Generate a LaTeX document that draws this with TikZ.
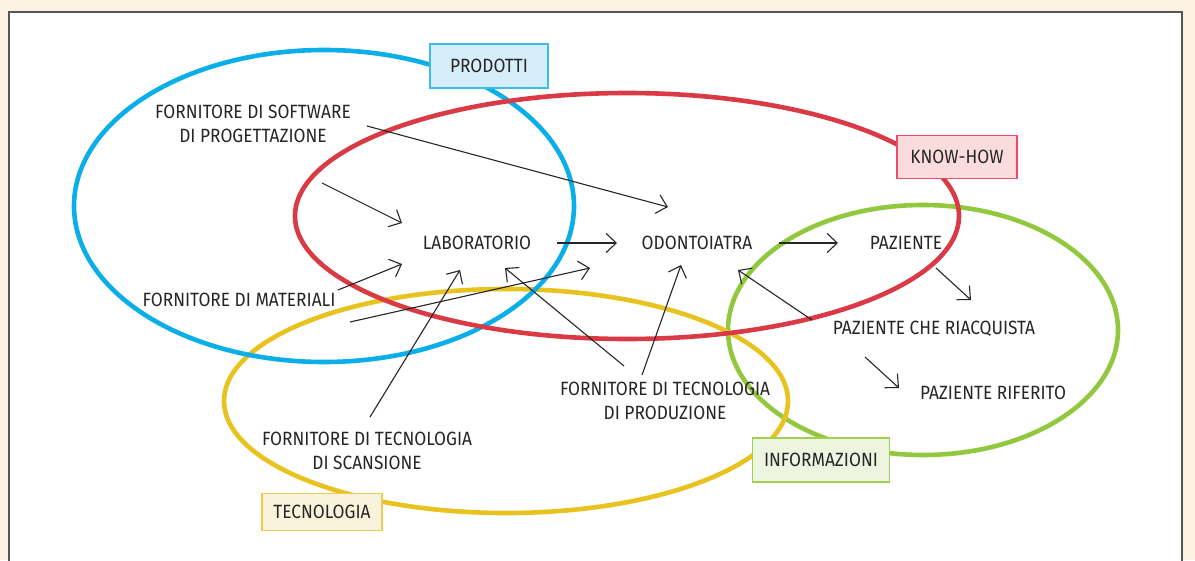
\documentclass[tikz,border=0pt]{standalone}
\usepackage{fontspec}
\setmainfont{Fira Sans}[FakeStretch=0.9]
\usetikzlibrary{arrows.meta}
\definecolor{cream}{HTML}{FDF1E1}
\definecolor{frame}{HTML}{555555}
\definecolor{txt}{HTML}{262626}
\definecolor{cblue}{HTML}{0AAEE8}
\definecolor{cred}{HTML}{DA3A45}
\definecolor{cyel}{HTML}{E8C21E}
\definecolor{cgreen}{HTML}{92C83E}
\definecolor{fblue}{HTML}{D5EEFA}
\definecolor{dblue}{HTML}{3BBDEB}
\definecolor{fred}{HTML}{FADCDC}
\definecolor{dred}{HTML}{EC4C6E}
\definecolor{fgreen}{HTML}{EDF4DF}
\definecolor{dgreen}{HTML}{A2D04E}
\definecolor{fyel}{HTML}{FAF3DC}
\definecolor{dyel}{HTML}{EDCB55}
\tikzset{
  lbl/.style={text=txt, font=\fontsize{19.2}{24.5}\selectfont, align=center, inner sep=0pt},
  tagbox/.style={lbl, line width=1.2pt, inner sep=0pt},
  ring/.style={line width=4.6pt},
  arr/.style={draw=txt, line width=1.1pt, -{Straight Barb[length=10pt,width=19pt,line width=1.1pt]}},
}
\begin{document}
\begin{tikzpicture}[x=1pt,y=-1pt]
\useasboundingbox (0,0) rectangle (1195,560);
\fill[cream] (0,0) rectangle (1195,560);
\filldraw[fill=white, draw=frame, line width=1.5pt] (9,12) rectangle (1182,575);

% rings
\draw[ring, cgreen] (923,330) ellipse [x radius=195pt, y radius=125pt];
\draw[ring, cyel] (506,401) ellipse [x radius=282pt, y radius=112pt];
\draw[ring, cblue] (324,206) ellipse [x radius=250pt, y radius=156pt];
\draw[ring, cred] (627,216) ellipse [x radius=332pt, y radius=123pt];

% tag boxes
\node[tagbox, fill=fblue, draw=dblue, minimum width=118pt, minimum height=44pt] (prod) at (489,66) {PRODOTTI};
\node[tagbox, fill=fred, draw=dred, minimum width=120pt, minimum height=43pt] (know) at (957,157) {KNOW-HOW};
\node[tagbox, fill=fgreen, draw=dgreen, minimum width=137pt, minimum height=44pt] (info) at (821,460) {INFORMAZIONI};
\node[tagbox, fill=fyel, draw=dyel, minimum width=120pt, minimum height=37pt] (tecn) at (322,512) {TECNOLOGIA};

% text nodes
\node[lbl] (soft) at (253,124) {FORNITORE DI SOFTWARE\\DI PROGETTAZIONE};
\node[lbl] (lab) at (477,243) {LABORATORIO};
\node[lbl] (odo) at (697,243) {ODONTOIATRA};
\node[lbl] (paz) at (906,243) {PAZIENTE};
\node[lbl] (mat) at (239,300) {FORNITORE DI MATERIALI};
\node[lbl] (ria) at (934,329) {PAZIENTE CHE RIACQUISTA};
\node[lbl] (rif) at (993,393) {PAZIENTE RIFERITO};
\node[lbl] (prd) at (665,401) {FORNITORE DI TECNOLOGIA\\DI PRODUZIONE};
\node[lbl] (scn) at (367,451) {FORNITORE DI TECNOLOGIA\\DI SCANSIONE};

% arrow end points
\coordinate (s1a) at (322,183); \coordinate (s1b) at (402,223);
\coordinate (s2a) at (367,126); \coordinate (s2b) at (668,207);
\coordinate (l1a) at (557,243); \coordinate (l1b) at (617,243);
\coordinate (o1a) at (779,243); \coordinate (o1b) at (838,243);
\coordinate (m1a) at (338,290); \coordinate (m1b) at (402,264);
\coordinate (m2a) at (350,322); \coordinate (m2b) at (590,268);
\coordinate (c1a) at (370,417); \coordinate (c1b) at (460,270);
\coordinate (p1a) at (624,366); \coordinate (p1b) at (505,268);
\coordinate (p2a) at (642,375); \coordinate (p2b) at (681,265);
\coordinate (r1a) at (812,320); \coordinate (r1b) at (738,270);
\coordinate (z1a) at (936,268); \coordinate (z1b) at (971,300);
\coordinate (r2a) at (865,357); \coordinate (r2b) at (899,388);

\draw[arr] (s1a) -- (s1b);
\draw[arr] (s2a) -- (s2b);
\draw[arr] (l1a) -- (l1b);
\draw[arr] (o1a) -- (o1b);
\draw[arr] (m1a) -- (m1b);
\draw[arr] (m2a) -- (m2b);
\draw[arr] (c1a) -- (c1b);
\draw[arr] (p1a) -- (p1b);
\draw[arr] (p2a) -- (p2b);
\draw[arr] (r1a) -- (r1b);
\draw[arr] (z1a) -- (z1b);
\draw[arr] (r2a) -- (r2b);
\end{tikzpicture}
\end{document}
